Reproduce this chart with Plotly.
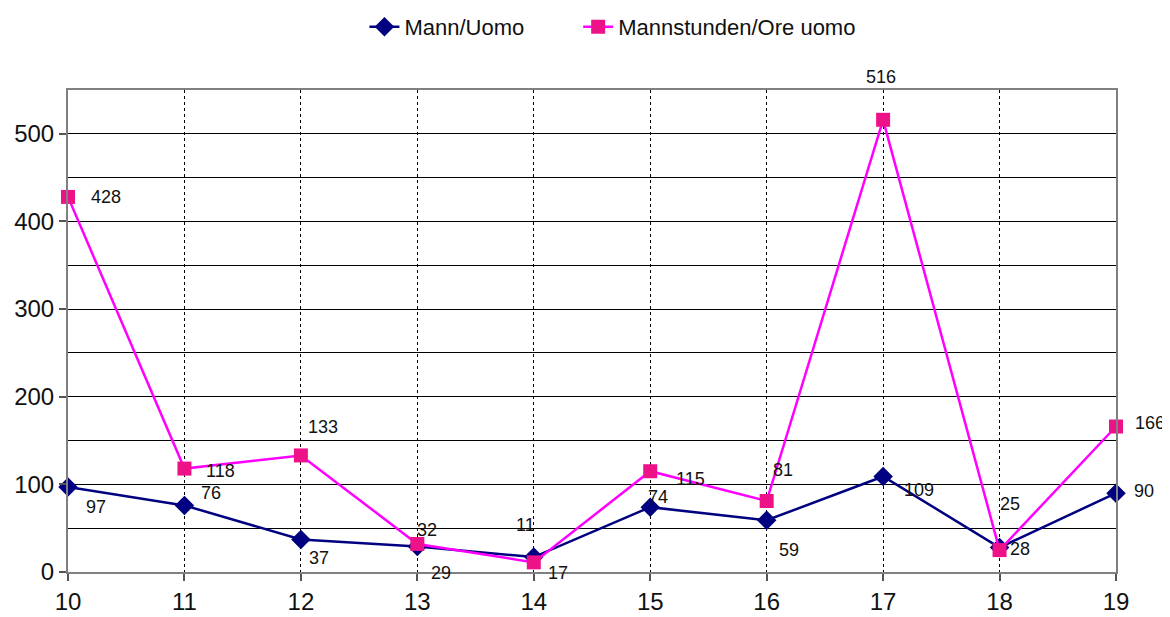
import plotly.graph_objects as go

categories = [10, 11, 12, 13, 14, 15, 16, 17, 18, 19]
mann = [97, 76, 37, 29, 17, 74, 59, 109, 28, 90]
mannstunden = [428, 118, 133, 32, 11, 115, 81, 516, 25, 166]
series_names = ["Mann/Uomo", "Mannstunden/Ore uomo"]

# label offsets in pixels (dx, dy; dy positive = up) - style only
mann_off = [(28, -20), (27, 12), (18, -18), (24, -26), (24, -16), (8, 10), (22, -30), (36, -14), (20, -2), (28, 2)]
stund_off = [(38, 0), (36, -2), (22, 28), (10, 14), (-8, 37), (40, -8), (16, 31), (-2, 43), (10, 46), (34, 4)]

FONT = "Liberation Sans, Arial, sans-serif"
PAD = "\u00a0" * 8

fig = go.Figure()
fig.add_trace(go.Scatter(
    x=categories, y=mann, name=series_names[0] + PAD, mode="lines+markers",
    line=dict(color="#000080", width=2.5),
    marker=dict(symbol="diamond", size=15, color="#000080"),
    cliponaxis=False,
))
fig.add_trace(go.Scatter(
    x=categories, y=mannstunden, name=series_names[1], mode="lines+markers",
    line=dict(color="#FF00FF", width=2.5),
    marker=dict(symbol="square", size=14, color="#EE1289"),
    cliponaxis=False,
))

annotations = []
for xs, ys, offs in [(categories, mann, mann_off), (categories, mannstunden, stund_off)]:
    for xv, yv, (dx, dy) in zip(xs, ys, offs):
        annotations.append(dict(
            x=xv, y=yv, xref="x", yref="y", text=str(yv), showarrow=False,
            xshift=dx, yshift=dy, font=dict(family=FONT, size=18, color="#111111"),
        ))

fig.update_layout(
    width=1170, height=617,
    margin=dict(l=60, r=62, t=82, b=53, autoexpand=False),
    paper_bgcolor="white", plot_bgcolor="white",
    font=dict(family=FONT, color="#111111"),
    showlegend=True,
    legend=dict(orientation="h", x=0.5195, xanchor="center", y=1.131, yanchor="middle",
                font=dict(family=FONT, size=22), tracegroupgap=0),
    annotations=annotations,
    xaxis=dict(
        range=[10, 19], tickvals=categories, ticktext=[str(c) for c in categories],
        showgrid=True, gridcolor="#000000", griddash="dot", gridwidth=1,
        showline=True, linecolor="#808080", linewidth=2, mirror=True,
        ticks="outside", ticklen=7, tickcolor="#555555", tickwidth=1.5,
        tickfont=dict(family=FONT, size=24), zeroline=False, automargin=False,
    ),
    yaxis=dict(
        range=[0, 550], tickvals=[0, 100, 200, 300, 400, 500],
        showgrid=True, gridcolor="#000000", gridwidth=1,
        minor=dict(tickvals=[50, 150, 250, 350, 450], showgrid=True, gridcolor="#000000", gridwidth=1),
        showline=True, linecolor="#808080", linewidth=2, mirror=True,
        ticks="outside", ticklen=7, tickcolor="#555555", tickwidth=1.5,
        tickfont=dict(family=FONT, size=24), zeroline=False, automargin=False,
    ),
)

fig.write_html("out.html")
